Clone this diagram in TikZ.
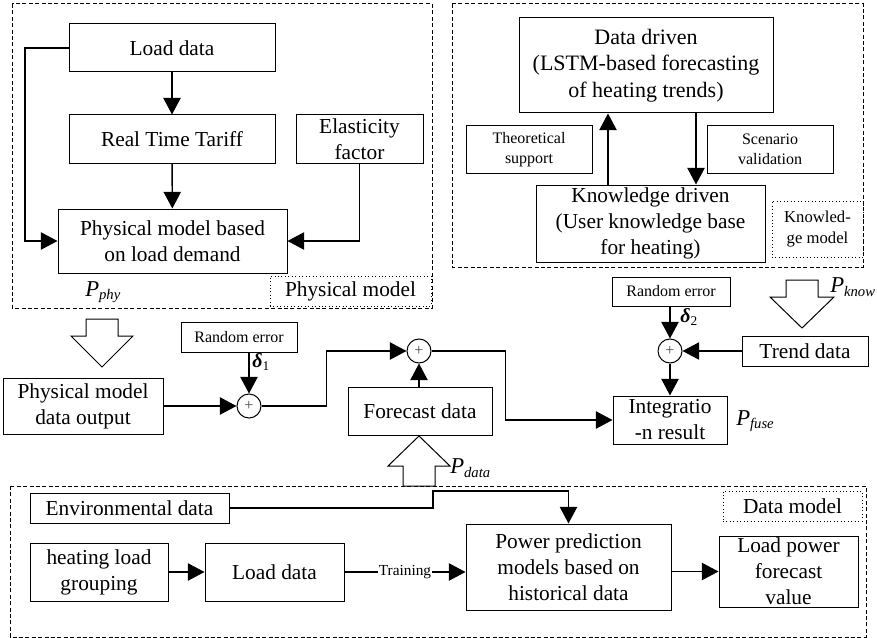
\documentclass[tikz,border=0pt]{standalone}
\usepackage{fontspec}
\setmainfont{Liberation Serif}
\usetikzlibrary{arrows.meta,calc}
\begin{document}
\begin{tikzpicture}[x=0.75pt,y=-0.75pt,
  box/.style={draw,line width=0.75pt,align=center,inner sep=0pt,font=\fontsize{16}{19.5}\selectfont},
  sbox/.style={draw,line width=0.75pt,align=center,inner sep=0pt,font=\fontsize{12}{15}\selectfont},
  wh/.style 2 args={minimum width=#1*0.75pt,minimum height=#2*0.75pt},
  frame/.style={draw,line width=0.75pt,dash pattern=on 3pt off 1.8pt},
  dotbox/.style={draw,line width=0.6pt,dotted,align=center,inner sep=0pt,font=\fontsize{16}{19.5}\selectfont},
  arr/.style={line width=1.1pt,-{Triangle[length=12.5pt,width=13pt]}},
  ln/.style={line width=1.1pt},
  sum/.style={draw,circle,line width=0.75pt,minimum size=18pt,inner sep=0pt,font=\fontsize{12}{12}\selectfont\color{black!70}},
  hollow/.style={draw,line width=0.75pt,fill=white},
  plab/.style={anchor=west,inner sep=0pt,font=\fontsize{17}{17}\selectfont\itshape},
  dlab/.style={anchor=west,inner sep=0pt,font=\fontsize{15}{15}\selectfont\bfseries\itshape}
]
\useasboundingbox (0,0) rectangle (877,638);

% ---------- Physical model ----------
\draw[frame] (12,4) rectangle (432,308);
\node[box,wh={206}{48}] (ld1) at (172,48) {Load data};
\node[box,wh={206}{48}] (rtt) at (172,139) {Real Time Tariff};
\node[box,wh={127}{48}] (ef) at (359.5,139) {Elasticity\\factor};
\node[box,wh={229}{64}] (pm) at (172.5,241) {Physical model based\\on load demand};
\node[dotbox,wh={161}{30}] (physlab) at (350.5,291) {Physical model};
\node[plab] (pphy) at (85,292) {P\textsubscript{\fontsize{11}{11}\selectfont phy}};
\draw[arr] (ld1) -- (rtt);
\draw[arr] (rtt) -- (pm);
\coordinate (ldl) at (25,48);
\draw[arr] (ld1.west) -- (ld1.west -| ldl) |- (pm.west);
\draw[arr] (ef.south) |- (pm.east);

% hollow arrow physical
\draw[hollow] (86,319) -- (118,319) -- (118,336) -- (133,336) -- (102,367) -- (71,336) -- (86,336) -- cycle;

% ---------- Knowledge model ----------
\draw[frame] (452,4) rectangle (863,267);
\node[box,wh={254}{95},font=\fontsize{16.5}{20}\selectfont] (dd) at (646,65.5) {Data driven\\(LSTM-based forecasting\\of heating trends)};
\node[sbox,wh={126}{47}] (ts) at (529,149.5) {Theoretical\\support};
\node[sbox,wh={126}{47}] (sv) at (770,149.5) {Scenario\\validation};
\node[box,wh={229}{77},font=\fontsize{16}{19.5}\selectfont] (kd) at (650.5,223.5) {Knowledge driven\\(User knowledge base\\for heating)};
\node[dotbox,wh={91}{56},font=\fontsize{12.5}{16}\selectfont] (kmlab) at (817.5,229) {Knowled-\\ge model};
\coordinate (kup) at (608,185);
\coordinate (kdn) at (696,113);
\draw[arr] (kup) -- (kup |- dd.south);
\draw[arr] (kdn) -- (kdn |- kd.north);

% hollow arrow knowledge
\draw[hollow] (786,280) -- (818,280) -- (818,297) -- (834,297) -- (802,328) -- (770,297) -- (786,297) -- cycle;
\node[plab] (pknow) at (830,287) {P\textsubscript{\fontsize{11}{11}\selectfont know}};

% ---------- Middle ----------
\node[sbox,wh={116}{30}] (re1) at (239,337) {Random error};
\node[sum] (s1) at (249,406) {+};
\node[box,wh={160}{56}] (pmo) at (83,406) {Physical model\\data output};
\node[sum] (s2) at (419,351) {+};
\node[box,wh={144}{48}] (fd) at (420,411) {Forecast data};
\node[box,wh={114}{48}] (intg) at (670,420) {Integratio\\-n result};
\node[plab] (pfuse) at (736,421) {P\textsubscript{\fontsize{11}{11}\selectfont fuse}};
\node[sum] (s3) at (670,351) {+};
\node[box,wh={126}{30}] (td) at (805,351) {Trend data};
\node[sbox,wh={118}{29}] (re2) at (671,291.5) {Random error};

\draw[arr] (re1.south -| s1) -- (s1);
\node[dlab] (d1) at (252,362) {δ\textsubscript{\fontsize{10}{10}\selectfont\mdseries\upshape 1}};
\draw[arr] (pmo.east) -- (s1);
\draw[arr] (s1.east) -- ++(65,0) |- (s2.west);
\draw[arr] (fd.north -| s2) -- (s2);
\draw[arr] (s2.east) -- ++(74,0) |- (intg.west);
\draw[arr] (re2.south -| s3) -- (s3);
\node[dlab] (d2) at (680,317) {δ\textsubscript{\fontsize{10}{10}\selectfont\mdseries\upshape 2}};
\draw[arr] (td.west) -- (s3);
\draw[arr] (s3) -- (intg.north -| s3);

% hollow arrow data (upward)
\draw[hollow] (403,486) -- (435,486) -- (435,466) -- (450,466) -- (419,436) -- (388,466) -- (403,466) -- cycle;
\node[plab] (pdata) at (450,468) {P\textsubscript{\fontsize{11}{11}\selectfont data}};

% ---------- Data model ----------
\draw[frame] (10,486) rectangle (866,637);
\node[box,wh={199}{30}] (env) at (129.5,508) {Environmental data};
\node[box,wh={138}{58}] (hlg) at (99,572) {heating load\\grouping};
\node[box,wh={139}{58}] (ld2) at (274.5,572) {Load data};
\node[box,wh={205}{86}] (ppm) at (568.5,567) {Power prediction\\models based on\\historical data};
\node[box,wh={139}{71}] (lpf) at (788.5,571.5) {Load power\\forecast\\value};
\node[dotbox,wh={139}{30}] (dmlab) at (792.5,506) {Data model};

\coordinate (ej) at (433,491);
\draw[arr] (env.east) -- (env.east -| ej) -- (ej) -| (ppm.north);
\draw[arr] (hlg.east) -- (ld2.west);
\draw[arr] (ld2.east) -- (ld2.east -| ppm.west) node[midway,fill=white,inner sep=1pt,font=\fontsize{11.5}{11.5}\selectfont] (trn) {Training};
\draw[arr] (ppm.east |- lpf.west) -- (lpf.west);
\end{tikzpicture}
\end{document}
